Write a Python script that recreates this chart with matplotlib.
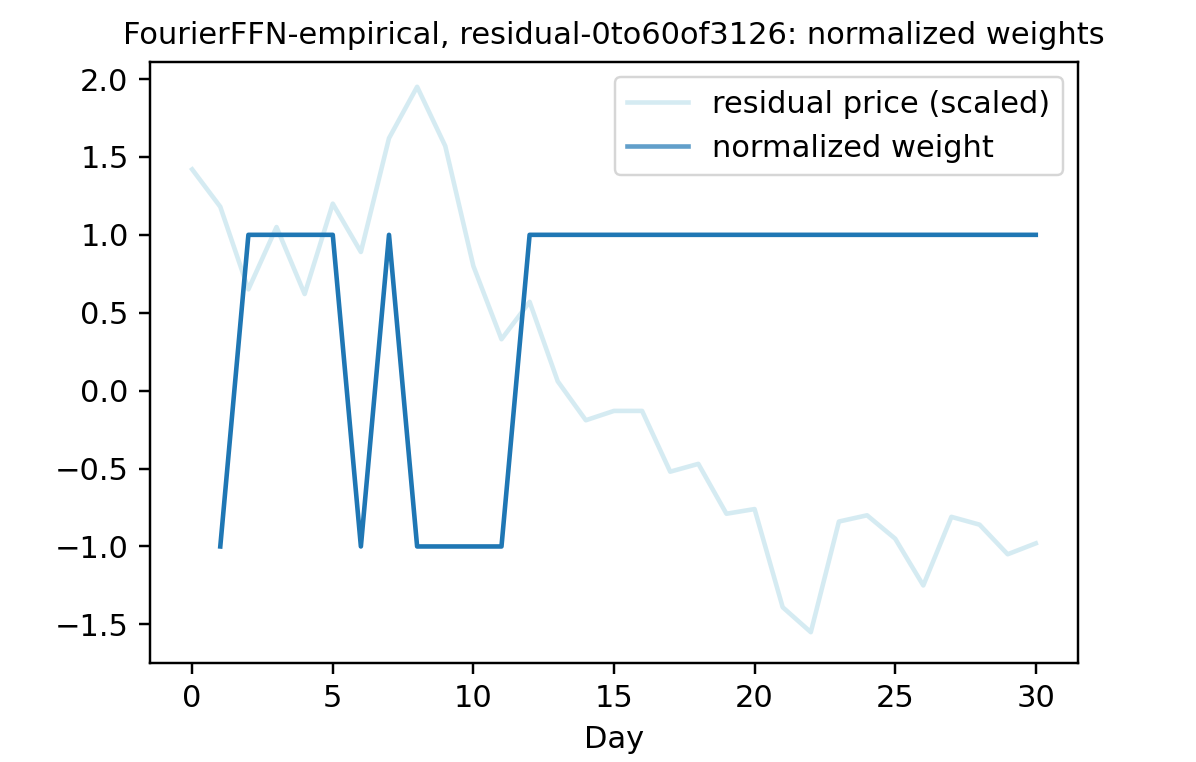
import matplotlib
matplotlib.use("Agg")
import matplotlib.pyplot as plt

# residual price (scaled), days 0..30
days = list(range(31))
residual = [1.42, 1.18, 0.65, 1.05, 0.62, 1.20, 0.89, 1.62, 1.95, 1.57,
            0.80, 0.33, 0.57, 0.06, -0.19, -0.13, -0.13, -0.52, -0.47, -0.79,
            -0.76, -1.39, -1.55, -0.84, -0.80, -0.95, -1.25, -0.81, -0.86, -1.05,
            -0.98]

# normalized weights, days 1..30
weight_days = list(range(1, 31))
weights = [-1, 1, 1, 1, 1, -1, 1, -1, -1, -1,
           -1, 1, 1, 1, 1, 1, 1, 1, 1, 1,
           1, 1, 1, 1, 1, 1, 1, 1, 1, 1]

plt.rcParams['font.size'] = 22

fig = plt.figure(figsize=(11.96, 7.62), dpi=100)
ax = fig.add_axes([0.1254, 0.1299, 0.7759, 0.7887])

ax.plot(days, residual, color='lightblue', alpha=0.5, lw=3.3, label='residual price (scaled)')
ax.plot(weight_days, weights, color='C0', lw=3.3, label='normalized weight')

ax.set_xticks([0, 5, 10, 15, 20, 25, 30])
ax.set_yticks([-1.5, -1.0, -0.5, 0.0, 0.5, 1.0, 1.5, 2.0])
ax.set_xlim(-1.5, 31.5)
ax.set_ylim(-1.748, 2.109)
ax.set_xlabel('Day', labelpad=8)
ax.set_title('FourierFFN-empirical, residual-0to60of3126: normalized weights',
             fontsize=22, pad=13)
ax.tick_params(length=7.7, width=1.76, pad=7.7)
for s in ax.spines.values():
    s.set_linewidth(1.76)

leg = ax.legend(loc='upper right')
leg.get_frame().set_linewidth(1.76)
leg.get_lines()[1].set_alpha(0.7)

fig.savefig('out.png', dpi=100)
